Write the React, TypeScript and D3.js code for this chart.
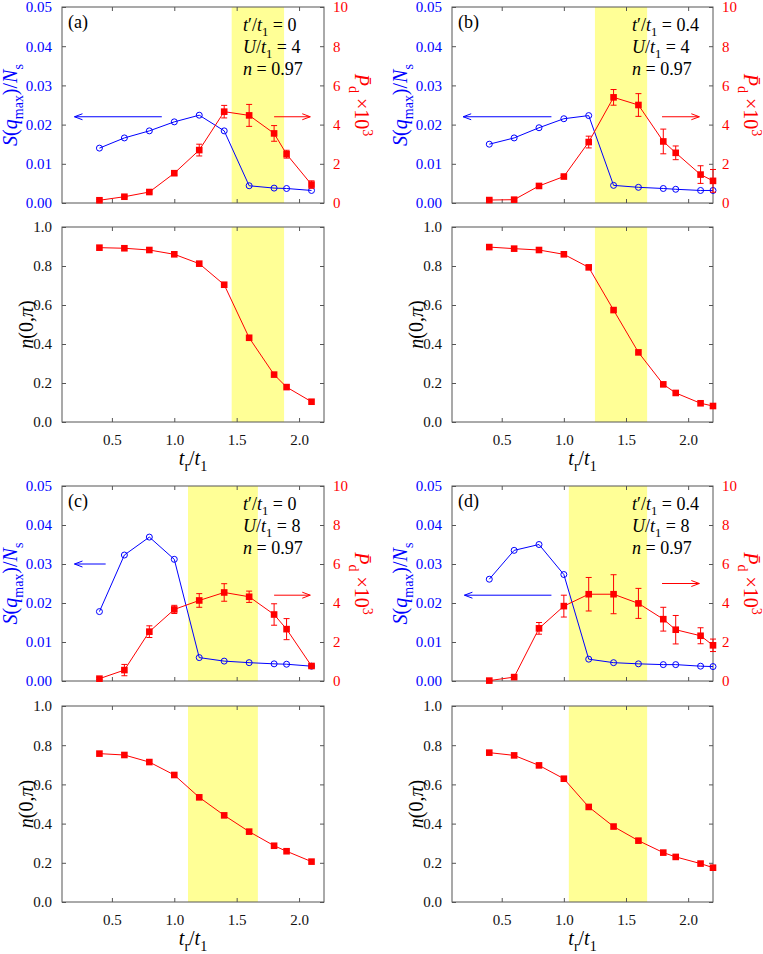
import React, { useEffect, useRef } from 'react';
import * as d3 from 'd3';

// t_r/t_1 values
const tA = [0.4, 0.6, 0.8, 1.0, 1.2, 1.4, 1.6, 1.8, 1.9, 2.1];
const tB = [0.4, 0.6, 0.8, 1.0, 1.2, 1.4, 1.6, 1.8, 1.9, 2.1, 2.2];

// (a) t'/t1 = 0, U/t1 = 4
const sA = [0.014, 0.0166, 0.0184, 0.0207, 0.0224, 0.0184, 0.0044, 0.0038, 0.0037, 0.0032];
const pA = [0.14, 0.32, 0.56, 1.52, 2.7, 4.66, 4.47, 3.55, 2.49, 0.94];
const eA = [0.05, 0.05, 0.06, 0.1, 0.3, 0.32, 0.56, 0.4, 0.2, 0.19];
const nA = [0.894, 0.891, 0.882, 0.86, 0.812, 0.704, 0.432, 0.243, 0.179, 0.104];

// (b) t'/t1 = 0.4, U/t1 = 4
const sB = [0.015, 0.0166, 0.0192, 0.0215, 0.0223, 0.0045, 0.004, 0.0037, 0.0035, 0.0032, 0.0032];
const pB = [0.15, 0.17, 0.87, 1.35, 3.11, 5.39, 5.0, 3.14, 2.56, 1.45, 1.13];
const eB = [0.06, 0.06, 0.1, 0.05, 0.3, 0.4, 0.58, 0.63, 0.35, 0.45, 0.58];
const nB = [0.897, 0.889, 0.882, 0.86, 0.793, 0.574, 0.357, 0.193, 0.149, 0.096, 0.082];

// (c) t'/t1 = 0, U/t1 = 8
const sC = [0.0178, 0.0323, 0.0369, 0.0312, 0.006, 0.0051, 0.0047, 0.0044, 0.0043, 0.0038];
const pC = [0.12, 0.56, 2.53, 3.67, 4.13, 4.54, 4.32, 3.41, 2.66, 0.77];
const eC = [0.05, 0.29, 0.3, 0.21, 0.35, 0.45, 0.29, 0.55, 0.54, 0.1];
const nC = [0.757, 0.75, 0.714, 0.648, 0.534, 0.442, 0.359, 0.287, 0.259, 0.206];

// (d) t'/t1 = 0.4, U/t1 = 8
const sD = [0.0261, 0.0335, 0.035, 0.0273, 0.0056, 0.0047, 0.0044, 0.0042, 0.0042, 0.0038, 0.0037];
const pD = [0.02, 0.2, 2.7, 3.84, 4.45, 4.45, 3.98, 3.17, 2.63, 2.32, 1.83];
const eD = [0.03, 0.05, 0.3, 0.56, 0.86, 1.0, 0.77, 0.61, 0.73, 0.41, 0.32];
const nD = [0.762, 0.748, 0.697, 0.629, 0.485, 0.385, 0.313, 0.252, 0.23, 0.196, 0.175];

// shaded ranges of t_r/t_1
const bandA = [1.46, 1.88];
const bandB = [1.25, 1.67];
const bandC = [1.11, 1.67];
const bandD = [1.04, 1.67];

const tprime = ['0', '0.4', '0', '0.4'];
const uVals = ['4', '4', '8', '8'];
const fillings = ['0.97', '0.97', '0.97', '0.97'];
const letters = ['(a)', '(b)', '(c)', '(d)'];

const sTicks = [0, 0.01, 0.02, 0.03, 0.04, 0.05];
const pTicks = [0, 2, 4, 6, 8, 10];
const nTicks = [0, 0.2, 0.4, 0.6, 0.8, 1.0];
const tTicks = [0.5, 1.0, 1.5, 2.0];

const SERIF = 'Liberation Serif';
const BLUE = '#0000ff';
const RED = '#ff0000';
const YELLOW = '#ffff96';
const FRAME = '#555';

const cols = [{ left: 62, right: 324 }, { left: 452, right: 713 }];
const rows = [
  { top: 7, mid: 203, low: 227, bottom: 422 },
  { top: 486, mid: 681, low: 706, bottom: 902 },
];

const panels = [
  { col: 0, row: 0, t: tA, s: sA, p: pA, e: eA, n: nA, band: bandA, blueArrow: [0.9, 0.2, 0.022], redArrow: [1.8, 2.09, 0.022] },
  { col: 1, row: 0, t: tB, s: sB, p: pB, e: eB, n: nB, band: bandB, blueArrow: [0.9, 0.19, 0.022], redArrow: [1.79, 2.09, 0.022] },
  { col: 0, row: 1, t: tA, s: sC, p: pC, e: eC, n: nC, band: bandC, blueArrow: [0.45, 0.2, 0.03], redArrow: [1.8, 2.09, 0.022] },
  { col: 1, row: 1, t: tB, s: sD, p: pD, e: eD, n: nD, band: bandD, blueArrow: [0.9, 0.2, 0.022], redArrow: [1.79, 2.09, 0.025] },
];

type Seg = { t: string; i?: boolean; sub?: boolean; sup?: boolean };

function rich(g: any, segs: Seg[], size: number) {
  const text = g.append('text').attr('font-size', size).style('font-family', SERIF).style('white-space', 'pre');
  let shift = 0;
  segs.forEach(s => {
    const target = s.sub ? size * 0.28 : s.sup ? -size * 0.42 : 0;
    const ts = text.append('tspan').text(s.t).attr('dy', target - shift);
    if (s.i) ts.attr('font-style', 'italic');
    if (s.sub || s.sup) ts.attr('font-size', size * 0.7);
    shift = target;
  });
  return text;
}

function arrow(g: any, x1: number, x2: number, y: number, color: string) {
  const dir = x2 > x1 ? 1 : -1;
  g.append('line').attr('x1', x1).attr('x2', x2).attr('y1', y).attr('y2', y).attr('stroke', color).attr('stroke-width', 1);
  g.append('path')
    .attr('d', `M${x2 - dir * 8},${y - 3}L${x2},${y}L${x2 - dir * 8},${y + 3}`)
    .attr('fill', 'none').attr('stroke', color).attr('stroke-width', 1);
}

function drawPanel(svg: any, p: any, idx: number) {
  const { left, right } = cols[p.col];
  const r = rows[p.row];
  const x = d3.scaleLinear().domain([0.1, 2.2]).range([left, right]);
  const yS = d3.scaleLinear().domain([0, 0.05]).range([r.mid, r.top]);
  const yP = d3.scaleLinear().domain([0, 10]).range([r.mid, r.top]);
  const yN = d3.scaleLinear().domain([0, 1]).range([r.bottom, r.low]);
  const g = svg.append('g');

  // yellow bands
  [[r.top, r.mid], [r.low, r.bottom]].forEach(([a, b]) => {
    g.append('rect').attr('x', x(p.band[0])).attr('width', x(p.band[1]) - x(p.band[0]))
      .attr('y', a).attr('height', b - a).attr('fill', YELLOW);
  });

  const axis = (gen: any, tx: number, ty: number, color = '#111') => {
    const a = g.append('g').attr('transform', `translate(${tx},${ty})`).call(gen);
    a.attr('font-family', null).attr('font-size', null);
    a.select('.domain').remove();
    a.selectAll('line').attr('stroke', FRAME);
    a.selectAll('text').attr('font-size', 15).style('font-family', SERIF).attr('fill', color);
    return a;
  };
  const none = () => '';

  // top panel axes
  axis(d3.axisLeft(yS).tickValues(sTicks).tickFormat(d3.format('.2f')).tickSizeInner(-4).tickSizeOuter(0).tickPadding(10), left, 0, BLUE);
  axis(d3.axisRight(yP).tickValues(pTicks).tickFormat(d3.format('d')).tickSizeInner(-4).tickSizeOuter(0).tickPadding(9), right, 0, RED);
  axis(d3.axisBottom(x).tickValues(tTicks).tickFormat(none).tickSizeInner(-4).tickSizeOuter(0), 0, r.mid);
  axis(d3.axisTop(x).tickValues(tTicks).tickFormat(none).tickSizeInner(-4).tickSizeOuter(0), 0, r.top);

  // bottom panel axes
  axis(d3.axisLeft(yN).tickValues(nTicks).tickFormat(d3.format('.1f')).tickSizeInner(-4).tickSizeOuter(0).tickPadding(10), left, 0);
  axis(d3.axisRight(yN).tickValues(nTicks).tickFormat(none).tickSizeInner(-4).tickSizeOuter(0), right, 0);
  axis(d3.axisBottom(x).tickValues(tTicks).tickFormat(d3.format('.1f')).tickSizeInner(-4).tickSizeOuter(0).tickPadding(12), 0, r.bottom);
  axis(d3.axisTop(x).tickValues(tTicks).tickFormat(none).tickSizeInner(-4).tickSizeOuter(0), 0, r.low);

  // frames
  [[r.top, r.mid], [r.low, r.bottom]].forEach(([a, b]) => {
    g.append('rect').attr('x', left).attr('y', a).attr('width', right - left).attr('height', b - a)
      .attr('fill', 'none').attr('stroke', FRAME).attr('stroke-width', 1);
  });

  // S(q_max)/N_s
  const sLine = d3.line<number>().x((_, i) => x(p.t[i])).y(d => yS(d));
  g.append('path').attr('d', sLine(p.s)).attr('fill', 'none').attr('stroke', BLUE).attr('stroke-width', 1);
  g.selectAll(null).data(p.s).join('circle')
    .attr('cx', (_: any, i: number) => x(p.t[i])).attr('cy', (d: number) => yS(d)).attr('r', 3)
    .attr('fill', 'none').attr('stroke', BLUE).attr('stroke-width', 1);

  // P_d
  const pLine = d3.line<number>().x((_, i) => x(p.t[i])).y(d => yP(d));
  g.append('path').attr('d', pLine(p.p)).attr('fill', 'none').attr('stroke', RED).attr('stroke-width', 1);
  p.p.forEach((v: number, i: number) => {
    const cx = x(p.t[i]);
    const e = p.e[i];
    g.append('path')
      .attr('d', `M${cx},${yP(v - e)}V${yP(v + e)}M${cx - 3},${yP(v - e)}H${cx + 3}M${cx - 3},${yP(v + e)}H${cx + 3}`)
      .attr('stroke', RED).attr('stroke-width', 1).attr('fill', 'none');
  });
  g.selectAll(null).data(p.p).join('rect')
    .attr('x', (_: any, i: number) => x(p.t[i]) - 3.3).attr('y', (d: number) => yP(d) - 3.3)
    .attr('width', 6.6).attr('height', 6.6).attr('fill', RED);

  // n(0,pi)
  const nLine = d3.line<number>().x((_, i) => x(p.t[i])).y(d => yN(d));
  g.append('path').attr('d', nLine(p.n)).attr('fill', 'none').attr('stroke', RED).attr('stroke-width', 1);
  g.selectAll(null).data(p.n).join('rect')
    .attr('x', (_: any, i: number) => x(p.t[i]) - 3.3).attr('y', (d: number) => yN(d) - 3.3)
    .attr('width', 6.6).attr('height', 6.6).attr('fill', RED);

  // arrows
  arrow(g, x(p.blueArrow[0]), x(p.blueArrow[1]), yS(p.blueArrow[2]), BLUE);
  arrow(g, x(p.redArrow[0]), x(p.redArrow[1]), yS(p.redArrow[2]), RED);

  // annotations
  g.append('text').attr('x', left + 6).attr('y', r.top + 21).attr('font-size', 18).style('font-family', SERIF).text(letters[idx]);
  const ax = right - 81;
  rich(g, [{ t: 't', i: true }, { t: '\u2032/' }, { t: 't', i: true }, { t: '1', sub: true }, { t: ' = ' + tprime[idx] }], 18)
    .attr('x', ax).attr('y', r.top + 24);
  rich(g, [{ t: 'U', i: true }, { t: '/' }, { t: 't', i: true }, { t: '1', sub: true }, { t: ' = ' + uVals[idx] }], 18)
    .attr('x', ax).attr('y', r.top + 46);
  rich(g, [{ t: 'n', i: true }, { t: ' = ' + fillings[idx] }], 18)
    .attr('x', ax).attr('y', r.top + 68);

  // axis titles
  const midTop = (r.top + r.mid) / 2;
  const midLow = (r.low + r.bottom) / 2;
  rich(g, [{ t: 'S', i: true }, { t: '(' }, { t: 'q', i: true }, { t: 'max', sub: true }, { t: ')/' }, { t: 'N', i: true }, { t: 's', sub: true }], 20)
    .attr('fill', BLUE).attr('text-anchor', 'middle')
    .attr('transform', `translate(${left - 45},${midTop}) rotate(-90)`);
  rich(g, [{ t: 'P\u0304', i: true }, { t: 'd', sub: true }, { t: ' \u00d710' }, { t: '3', sup: true }], 20)
    .attr('fill', RED).attr('text-anchor', 'middle')
    .attr('transform', `translate(${right + 31},${midTop}) rotate(90)`);
  rich(g, [{ t: 'n', i: true }, { t: '(0,' }, { t: '\u03c0', i: true }, { t: ')' }], 20)
    .attr('text-anchor', 'middle')
    .attr('transform', `translate(${left - 29},${midLow}) rotate(-90)`);
  rich(g, [{ t: 't', i: true }, { t: 'r', sub: true }, { t: '/' }, { t: 't', i: true }, { t: '1', sub: true }], 20)
    .attr('text-anchor', 'middle')
    .attr('transform', `translate(${(left + right) / 2},${r.bottom + 43})`);
}

const App = () => {
  const svgRef = useRef<SVGSVGElement>(null);

  useEffect(() => {
    const svg = d3.select(svgRef.current);
    svg.selectAll('*').remove();
    svg.append('rect').attr('width', 763).attr('height', 954).attr('fill', '#fff');
    panels.forEach((p, i) => drawPanel(svg, p, i));
  }, []);

  return (
    <svg ref={svgRef} width={763} height={954}
      style={{ position: 'absolute', left: 0, top: 0, display: 'block', fontFamily: SERIF }} />
  );
};

export default App;
